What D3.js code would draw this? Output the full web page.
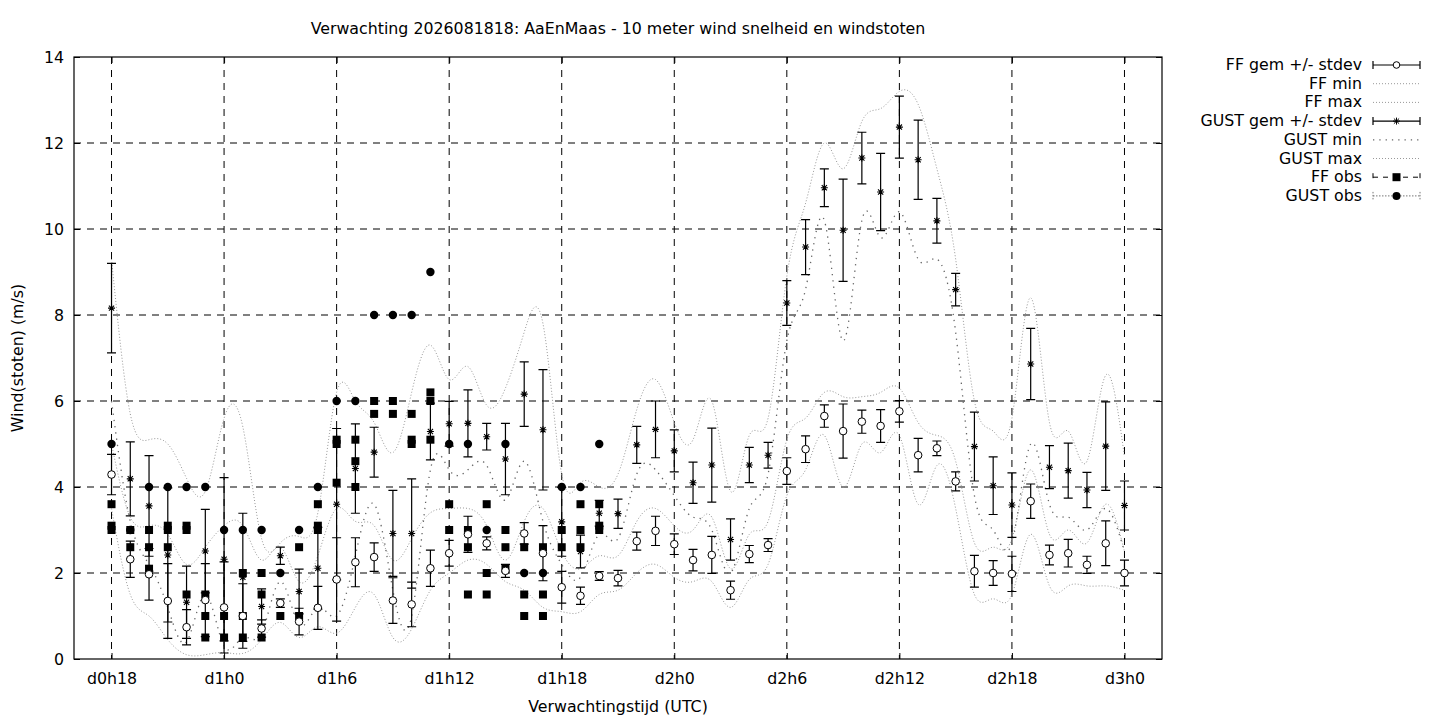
<!DOCTYPE html>
<html>
<head>
<meta charset="utf-8">
<script src="https://d3js.org/d3.v7.min.js"></script>
<style>
	body { margin: 0; background: #fff; }
	text { font-family: "DejaVu Sans", sans-serif; font-size: 15.8px; fill: #000; }
	.grid { stroke: #000; stroke-width: 1; stroke-dasharray: 7,6; }
	.bar { stroke: #000; stroke-width: 1.2; fill: none; }
	.env { fill: none; stroke: #999; stroke-width: 1; stroke-dasharray: 1,2; }
	.gmin { fill: none; stroke: #666; stroke-width: 1.3; stroke-dasharray: 1.3,5; }
</style>
</head>
<body>
<script>
	var width = 1440, height = 720;

	// forecast hours (since d0h0)
	var hours = d3.range(18, 73);
	var ffMean = [4.29,2.32,1.97,1.35,0.74,1.37,1.20,1.00,0.71,1.30,0.87,1.19,1.85,2.25,2.37,1.36,1.27,2.11,2.46,2.90,2.69,2.05,2.92,2.46,1.67,1.47,1.93,1.88,2.74,2.98,2.67,2.30,2.42,1.60,2.44,2.65,4.37,4.88,5.65,5.30,5.52,5.42,5.76,4.74,4.90,4.13,2.04,2.00,1.98,3.67,2.42,2.46,2.19,2.69,2.00];
	var ffSd = [0.47,0.42,0.60,0.87,0.41,0.85,1.06,0.75,0.20,0.10,0.31,0.50,0.97,0.57,0.33,0.53,0.52,0.42,0.30,0.42,0.15,0.15,0.25,0.64,0.37,0.20,0.10,0.18,0.21,0.34,0.24,0.25,0.43,0.21,0.20,0.15,0.31,0.31,0.26,0.63,0.27,0.38,0.25,0.39,0.17,0.22,0.37,0.29,0.41,0.40,0.23,0.32,0.20,0.52,0.30];
	var gustMean = [8.16,4.19,3.56,2.42,1.32,2.51,2.32,1.90,1.22,2.40,1.57,2.11,3.60,4.43,4.81,2.92,2.92,5.29,5.47,5.48,5.17,4.65,6.16,5.33,3.19,2.50,3.39,3.38,4.98,5.34,4.84,4.10,4.51,2.78,4.51,4.74,8.28,9.58,10.96,9.97,11.65,10.86,12.37,11.61,10.19,8.59,4.94,4.03,3.58,6.86,4.46,4.38,3.93,4.95,3.57];
	var gustSd = [1.04,0.86,1.17,1.56,0.84,0.97,1.90,1.49,0.41,0.20,0.52,0.95,1.76,1.04,0.58,1.00,1.27,0.66,0.52,0.78,0.31,0.83,0.75,1.40,0.80,0.38,0.30,0.34,0.43,0.66,0.49,0.48,0.86,0.48,0.41,0.30,0.52,0.64,0.44,1.19,0.60,0.90,0.72,0.92,0.52,0.38,0.80,0.67,0.75,0.83,0.50,0.64,0.41,1.03,0.57];
	var ffMin = [3.5,1.5,1.0,0.45,0.1,0.1,0.15,0.13,0.45,0.85,0.5,0.75,0.6,1.2,1.5,0.5,0.7,1.6,2.0,2.3,2.2,1.8,1.6,1.2,1.1,1.1,1.5,1.6,2.0,2.2,1.9,1.8,1.8,1.2,1.85,2.2,3.8,4.4,5.2,4.0,5.0,4.8,5.2,3.6,4.5,3.5,1.5,1.4,1.5,2.9,1.7,1.7,1.7,1.7,1.6];
	var ffMax = [5.0,3.3,3.1,2.9,2.2,2.6,3.1,3.1,2.3,2.6,1.8,2.4,3.5,3.2,3.1,2.3,2.8,3.4,3.5,3.5,3.1,2.3,3.2,3.5,2.5,2.1,2.4,2.4,3.2,3.5,3.1,3.0,3.3,2.1,2.9,3.2,5.1,5.6,6.2,6.1,6.1,6.2,6.3,5.5,5.2,4.6,2.7,2.6,2.8,4.4,2.9,3.0,2.7,3.6,2.5];
	var gustMin = [6.0,3.2,2.2,1.2,0.4,1.5,0.3,0.5,0.6,1.8,0.8,1.2,1.0,2.4,3.6,1.6,1.0,4.4,4.4,4.4,4.5,3.7,4.6,3.2,2.2,1.9,2.9,2.8,4.3,4.4,3.8,3.3,3.0,2.0,3.5,4.3,7.4,8.6,10.2,7.4,10.2,9.8,10.4,9.3,9.3,7.6,3.8,3.0,2.7,5.0,3.6,3.3,3.0,3.5,2.5];
	var gustMax = [9.3,5.7,5.1,5.0,4.2,3.9,5.6,5.4,2.8,2.7,2.85,3.4,6.2,6.0,5.5,4.8,6.2,7.3,6.5,6.8,5.9,6.3,7.6,7.8,4.3,4.1,4.0,4.3,5.8,6.5,5.5,5.1,6.0,3.9,5.2,5.6,8.9,10.6,12.0,11.4,12.5,12.8,13.2,12.9,11.4,9.3,6.0,5.3,5.6,8.4,5.5,5.3,4.6,6.6,4.7];

	// observations (several per hour)
	var obsHours = d3.range(18, 45);
	var ffObs = [[3.6,3.1,3.0],[3.0,2.6],[3.0,2.6,2.1],[3.1,3.0,2.6],[3.1,3.0,1.5],[1.5,1.0,0.5],[1.0,0.5],[2.0,1.0,0.5],[2.0,1.5,0.5],[1.0],[2.6,1.0],[3.6,3.1,3.0],[5.1,5.0,4.1],[5.1,4.6,4.0],[6.0,5.7],[6.0,5.7],[5.7,5.1,5.0],[6.2,6.0,5.1],[3.6,3.0],[3.0,2.6,1.5],[3.6,2.0,1.5],[3.0,2.6,2.1],[2.6,1.5,1.0],[2.6,1.5,1.0],[3.0,2.6],[3.6,3.0,2.6],[3.6,3.1,3.0]];
	var gustObs = [5,3,4,4,4,4,3,3,3,2,3,4,6,6,8,8,8,9,5,5,3,5,2,2,4,4,5];

	var tickHours = [18,24,30,36,42,48,54,60,66,72];
	var tickLabels = ["d0h18","d1h0","d1h6","d1h12","d1h18","d2h0","d2h6","d2h12","d2h18","d3h0"];
	var yTicks = [0,2,4,6,8,10,12,14];

	var legendNames = ["FF gem +/- stdev","FF min","FF max","GUST gem +/- stdev","GUST min","GUST max","FF obs","GUST obs"];

	var pL = 74, pR = 1162, pT = 57, pB = 659;
	var x = d3.scaleLinear().domain([16, 74]).range([pL, pR]);
	var y = d3.scaleLinear().domain([0, 14]).range([pB, pT]);

	var svg = d3.select("body").append("svg").attr("width", width).attr("height", height);

	// grid
	svg.append("g").selectAll("line").data(yTicks.slice(1, -1)).enter().append("line")
		.attr("class", "grid").attr("x1", pL).attr("x2", pR)
		.attr("y1", function(d){ return y(d); }).attr("y2", function(d){ return y(d); });
	svg.append("g").selectAll("line").data(tickHours).enter().append("line")
		.attr("class", "grid").attr("y1", pT).attr("y2", pB)
		.attr("x1", function(d){ return x(d); }).attr("x2", function(d){ return x(d); });

	// axes
	svg.append("g").attr("transform", "translate(" + pL + ",0)")
		.call(d3.axisLeft(y).tickValues(yTicks).tickSize(-6).tickPadding(10));
	svg.append("g").attr("transform", "translate(" + pR + ",0)")
		.call(d3.axisRight(y).tickValues(yTicks).tickSize(-6).tickFormat(""));
	svg.append("g").attr("transform", "translate(0," + pB + ")")
		.call(d3.axisBottom(x).tickValues(tickHours).tickSize(-6).tickPadding(14)
			.tickFormat(function(d, i){ return tickLabels[i]; }));
	svg.append("g").attr("transform", "translate(0," + pT + ")")
		.call(d3.axisTop(x).tickValues(tickHours).tickSize(-6).tickFormat(""));
	svg.selectAll(".domain").remove();
	svg.selectAll(".tick text").style("font-size", "15.8px").style("font-family", "DejaVu Sans");
	svg.append("rect").attr("x", pL).attr("y", pT).attr("width", pR - pL).attr("height", pB - pT)
		.attr("fill", "none").attr("stroke", "#000").attr("stroke-width", 1.2);

	var plot = svg.append("g");
	svg.append("clipPath").attr("id", "clip").append("rect")
		.attr("x", pL).attr("y", pT).attr("width", pR - pL).attr("height", pB - pT);
	var env = plot.append("g").attr("clip-path", "url(#clip)");

	function curve(vals){
		return d3.line().curve(d3.curveNatural)
			.x(function(d, i){ return x(hours[i]); })
			.y(function(d){ return y(d); })(vals);
	}
	env.append("path").attr("class", "env").attr("d", curve(ffMin));
	env.append("path").attr("class", "env").attr("d", curve(ffMax));
	env.append("path").attr("class", "gmin").attr("d", curve(gustMin));
	env.append("path").attr("class", "env").attr("d", curve(gustMax));

	// error bars
	function errorBars(mean, sd){
		var g = plot.append("g");
		hours.forEach(function(h, i){
			var cx = x(h), y1 = y(mean[i] + sd[i]), y2 = y(mean[i] - sd[i]);
			g.append("path").attr("class", "bar")
				.attr("d", "M" + cx + "," + y1 + "V" + y2 + "M" + (cx - 4.5) + "," + y1 + "H" + (cx + 4.5) + "M" + (cx - 4.5) + "," + y2 + "H" + (cx + 4.5));
		});
	}
	errorBars(ffMean, ffSd);
	errorBars(gustMean, gustSd);

	// observations
	var obsG = plot.append("g");
	obsHours.forEach(function(h, i){
		ffObs[i].forEach(function(v){
			obsG.append("rect").attr("x", x(h) - 4).attr("y", y(v) - 4).attr("width", 8).attr("height", 8).attr("fill", "#000");
		});
		obsG.append("circle").attr("cx", x(h)).attr("cy", y(gustObs[i])).attr("r", 4.2).attr("fill", "#000");
	});

	// means
	plot.append("g").selectAll("circle").data(ffMean).enter().append("circle")
		.attr("cx", function(d, i){ return x(hours[i]); })
		.attr("cy", function(d){ return y(d); })
		.attr("r", 3.8).attr("fill", "#fff").attr("stroke", "#000").attr("stroke-width", 1);

	function star(cx, cy){
		var s = 3.5, d = 2.6;
		return "M" + (cx - s) + "," + cy + "H" + (cx + s) + "M" + cx + "," + (cy - s) + "V" + (cy + s) +
			"M" + (cx - d) + "," + (cy - d) + "L" + (cx + d) + "," + (cy + d) +
			"M" + (cx - d) + "," + (cy + d) + "L" + (cx + d) + "," + (cy - d);
	}
	plot.append("g").selectAll("path").data(gustMean).enter().append("path")
		.attr("d", function(d, i){ return star(x(hours[i]), y(d)); })
		.attr("stroke", "#000").attr("stroke-width", 1.1).attr("fill", "none");

	// labels
	svg.append("text").attr("x", 618).attr("y", 34).attr("text-anchor", "middle")
		.text("Verwachting 2026081818: AaEnMaas - 10 meter wind snelheid en windstoten");
	svg.append("text").attr("x", 618).attr("y", 712).attr("text-anchor", "middle").text("Verwachtingstijd (UTC)");
	svg.append("text").attr("transform", "translate(23,358) rotate(-90)").attr("text-anchor", "middle").text("Wind(stoten) (m/s)");

	// legend
	var leg = svg.append("g");
	legendNames.forEach(function(name, i){
		var ly = 65 + i * 18.7;
		leg.append("text").attr("x", 1362).attr("y", ly + 5).attr("text-anchor", "end").text(name);
		var x1 = 1373, x2 = 1420, mx = (x1 + x2) / 2;
		if (i == 0 || i == 3){
			leg.append("path").attr("class", "bar")
				.attr("d", "M" + x1 + "," + ly + "H" + x2 + "M" + x1 + "," + (ly - 4) + "V" + (ly + 4) + "M" + x2 + "," + (ly - 4) + "V" + (ly + 4));
			if (i == 0) leg.append("circle").attr("cx", mx).attr("cy", ly).attr("r", 3.3).attr("fill", "#fff").attr("stroke", "#000");
			else leg.append("path").attr("d", star(mx, ly)).attr("stroke", "#000").attr("fill", "none");
		} else if (i == 6){
			leg.append("path").attr("fill", "none").attr("stroke", "#000").attr("stroke-dasharray", "5,5")
				.attr("d", "M" + x1 + "," + ly + "H" + x2 + "M" + x1 + "," + (ly - 4) + "V" + (ly + 4) + "M" + x2 + "," + (ly - 4) + "V" + (ly + 4));
			leg.append("rect").attr("x", mx - 4).attr("y", ly - 4).attr("width", 8).attr("height", 8).attr("fill", "#000");
		} else if (i == 7){
			leg.append("path").attr("fill", "none").attr("stroke", "#777").attr("stroke-dasharray", "1.5,1.5")
				.attr("d", "M" + x1 + "," + ly + "H" + x2 + "M" + x1 + "," + (ly - 4) + "V" + (ly + 4) + "M" + x2 + "," + (ly - 4) + "V" + (ly + 4));
			leg.append("circle").attr("cx", mx).attr("cy", ly).attr("r", 4).attr("fill", "#000");
		} else {
			leg.append("path").attr("class", i == 4 ? "gmin" : "env").attr("d", "M" + x1 + "," + ly + "H" + x2);
		}
	});
</script>
</body>
</html>
